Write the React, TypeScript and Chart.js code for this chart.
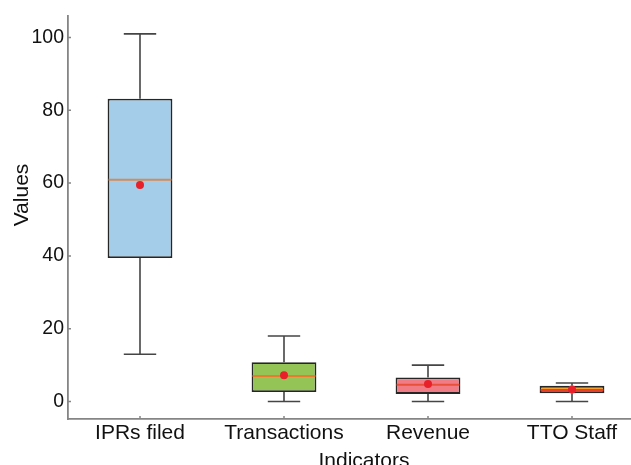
import { useEffect, useRef } from 'react';
import { Chart, registerables } from 'chart.js';

Chart.register(...registerables);

// Indicator summary statistics (five-number summary plus mean)
const categories = ['IPRs filed', 'Transactions', 'Revenue', 'TTO Staff'];
const whiskerLow = [13, 0, 0, 0];
const q1 = [39.4, 2.6, 2.1, 2.3];
const medians = [60.9, 7.0, 4.6, 3.2];
const q3 = [83.2, 10.8, 6.6, 4.3];
const whiskerHigh = [101, 18, 10, 5.1];
const means = [59.5, 7.2, 4.8, 3.3];
const yTicks = [0, 20, 40, 60, 80, 100];
const xTitle = 'Indicators';
const yTitle = 'Values';

const boxFill = ['#a3cde9', '#94c456', '#f17c86', '#f6a02c'];
const medianColor = ['#d58a5a', '#ea7a2e', '#e9503a', '#e8402a'];
const FONT = '"Liberation Sans", Arial, sans-serif';
const TEXT = '#111111';
const AXIS = '#858585';
const WHISKER = '#454545';

const boxPlotPlugin = {
  id: 'boxWhiskers',
  afterDatasetDraw(chart: any, args: any) {
    if (args.index !== 0) return;
    const { ctx } = chart;
    const y = chart.scales.y;
    const meta = chart.getDatasetMeta(0);
    ctx.save();
    meta.data.forEach((bar: any, i: number) => {
      const { x, width } = bar.getProps(['x', 'width'], true);
      const half = width / 2;
      const cap = width / 4;
      const yLow = y.getPixelForValue(whiskerLow[i]);
      const yQ1 = y.getPixelForValue(q1[i]);
      const yQ3 = y.getPixelForValue(q3[i]);
      const yHigh = y.getPixelForValue(whiskerHigh[i]);
      const yMed = y.getPixelForValue(medians[i]);

      ctx.strokeStyle = WHISKER;
      ctx.lineWidth = 1.6;
      ctx.beginPath();
      ctx.moveTo(x, yQ3);
      ctx.lineTo(x, yHigh);
      ctx.moveTo(x - cap, yHigh);
      ctx.lineTo(x + cap, yHigh);
      ctx.moveTo(x, yQ1);
      ctx.lineTo(x, yLow);
      ctx.moveTo(x - cap, yLow);
      ctx.lineTo(x + cap, yLow);
      ctx.stroke();

      ctx.strokeStyle = medianColor[i];
      ctx.lineWidth = 2;
      ctx.beginPath();
      ctx.moveTo(x - half + 1, yMed);
      ctx.lineTo(x + half - 1, yMed);
      ctx.stroke();
    });
    ctx.restore();
  },
  afterDraw(chart: any) {
    const { ctx, chartArea } = chart;
    const xs = chart.scales.x;
    const ys = chart.scales.y;
    ctx.save();
    // inward tick marks
    ctx.strokeStyle = AXIS;
    ctx.lineWidth = 1.5;
    ctx.beginPath();
    ys.ticks.forEach((t: any) => {
      const py = ys.getPixelForValue(t.value);
      ctx.moveTo(chartArea.left, py);
      ctx.lineTo(chartArea.left + 3, py);
    });
    categories.forEach((_, i) => {
      const px = xs.getPixelForValue(i);
      ctx.moveTo(px, chartArea.bottom);
      ctx.lineTo(px, chartArea.bottom - 3);
    });
    ctx.stroke();

    // axis titles
    ctx.fillStyle = TEXT;
    ctx.font = `21px ${FONT}`;
    ctx.textAlign = 'center';
    ctx.textBaseline = 'alphabetic';
    ctx.fillText(xTitle, 364, 467);

    ctx.translate(22, 195);
    ctx.rotate(-Math.PI / 2);
    ctx.textBaseline = 'middle';
    ctx.fillText(yTitle, 0, 0);
    ctx.restore();
  },
};

export default function App() {
  const canvasRef = useRef<HTMLCanvasElement | null>(null);

  useEffect(() => {
    const canvas = canvasRef.current;
    if (!canvas) return;
    const chart = new Chart(canvas, {
      type: 'bar',
      data: {
        labels: categories,
        datasets: [
          {
            type: 'bar',
            label: 'IQR',
            data: categories.map((_, i) => [q1[i], q3[i]]) as any,
            backgroundColor: boxFill,
            borderColor: '#262626',
            borderWidth: 1.8,
            borderSkipped: false,
            barPercentage: 0.45,
            categoryPercentage: 1,
            order: 1,
          } as any,
          {
            type: 'line',
            label: 'Mean',
            data: means,
            showLine: false,
            pointRadius: 4,
            pointBackgroundColor: '#e8202a',
            pointBorderWidth: 0,
            order: 0,
          } as any,
        ],
      },
      options: {
        responsive: false,
        animation: false,
        devicePixelRatio: 1,
        layout: { padding: { top: 16, right: 2, left: 0, bottom: 0 } },
        plugins: {
          legend: { display: false },
          tooltip: { enabled: false },
        },
        scales: {
          x: {
            type: 'category',
            offset: true,
            grid: { display: false, drawTicks: false },
            border: { display: true, color: AXIS, width: 1.8 },
            ticks: {
              padding: 2,
              color: TEXT,
              font: { family: FONT, size: 21 },
              maxRotation: 0,
            },
            afterFit: (s: any) => {
              s.height = 46;
            },
          },
          y: {
            type: 'linear',
            min: -4.8,
            max: 105.9,
            grid: { display: false, drawTicks: false },
            border: { display: true, color: AXIS, width: 1.8 },
            ticks: {
              padding: 4,
              color: TEXT,
              font: { family: FONT, size: 19.5 },
            },
            afterBuildTicks: (s: any) => {
              s.ticks = yTicks.map((v) => ({ value: v }));
            },
            afterFit: (s: any) => {
              s.width = 68;
            },
          },
        },
      },
      plugins: [boxPlotPlugin],
    });
    return () => chart.destroy();
  }, []);

  return (
    <div
      style={{
        position: 'fixed',
        left: 0,
        top: 0,
        width: 631,
        height: 465,
        overflow: 'hidden',
        background: '#ffffff',
      }}
    >
      <canvas ref={canvasRef} width={648} height={465} style={{ display: 'block' }} />
    </div>
  );
}
